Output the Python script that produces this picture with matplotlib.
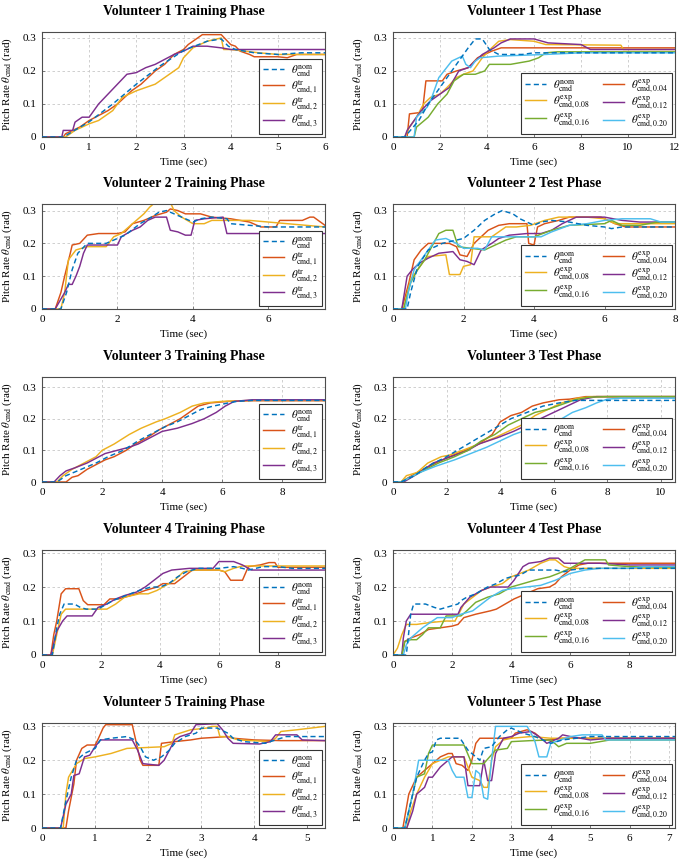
import matplotlib
matplotlib.use("Agg")
import matplotlib.pyplot as plt
import numpy as np

plt.rcParams['font.family'] = ['Liberation Serif', 'DejaVu Serif']
plt.rcParams['mathtext.fontset'] = 'stix'

# Colours (MATLAB-like palette)
C_NOM = '#0072BD'
C1 = '#D95319'
C2 = '#EDB120'
C3 = '#7E2F8E'
C4 = '#77AC30'
C5 = '#4DBEEE'

# ---------------- Volunteer 1 ----------------
V1_TR_NOM = [(0,0),(0.45,0),(1.0,0.046),(1.5,0.1),(2.0,0.16),(2.5,0.215),(3.0,0.262),(3.5,0.29),(3.8,0.297),(3.95,0.275),(4.1,0.265),(4.5,0.255),(5.0,0.25),(5.5,0.255),(6.0,0.255)]
V1_TR_1 = [(0,0),(0.45,0),(0.5,0.01),(0.8,0.03),(1.0,0.05),(1.4,0.08),(1.6,0.1),(1.9,0.14),(2.1,0.16),(2.4,0.2),(2.6,0.22),(2.8,0.25),(3.0,0.265),(3.1,0.28),(3.3,0.3),(3.4,0.31),(3.8,0.31),(3.9,0.295),(4.0,0.28),(4.1,0.275),(4.2,0.26),(4.4,0.25),(4.5,0.243),(5.0,0.243),(5.2,0.24),(5.4,0.25),(6.0,0.25)]
V1_TR_2 = [(0,0),(0.5,0),(0.7,0.02),(1.0,0.04),(1.2,0.05),(1.5,0.08),(1.7,0.12),(2.0,0.14),(2.4,0.16),(2.7,0.19),(2.9,0.21),(3.0,0.24),(3.2,0.27),(3.5,0.29),(3.8,0.3),(3.85,0.265),(4.0,0.265),(4.3,0.26),(4.6,0.255),(5.0,0.25),(6.0,0.25)]
V1_TR_3 = [(0,0),(0.42,0),(0.45,0.02),(0.65,0.02),(0.7,0.045),(0.85,0.06),(1.0,0.06),(1.1,0.08),(1.2,0.1),(1.4,0.13),(1.6,0.16),(1.8,0.19),(2.0,0.195),(2.2,0.21),(2.4,0.22),(2.6,0.235),(2.8,0.25),(3.0,0.26),(3.2,0.275),(3.5,0.275),(3.8,0.27),(4.0,0.265),(6.0,0.265)]

V1_TE_NOM = [(0,0),(0.5,0),(1.1,0.05),(1.5,0.1),(2.0,0.15),(2.5,0.2),(2.9,0.24),(3.2,0.27),(3.5,0.297),(3.8,0.297),(4.1,0.265),(4.5,0.25),(5.5,0.25),(6.0,0.255),(12.0,0.255)]
V1_TE_04 = [(0,0),(0.6,0),(0.7,0.07),(1.25,0.075),(1.4,0.17),(2.1,0.17),(2.3,0.19),(2.7,0.2),(3.2,0.21),(3.6,0.24),(4.2,0.26),(4.6,0.27),(12.0,0.27)]
V1_TE_08 = [(0,0),(0.5,0),(0.7,0.03),(1.0,0.06),(1.3,0.1),(1.6,0.12),(2.0,0.13),(2.3,0.15),(2.7,0.18),(3.0,0.19),(3.4,0.2),(3.8,0.24),(4.2,0.27),(4.5,0.29),(5.0,0.295),(6.0,0.29),(6.5,0.28),(9.7,0.278),(9.8,0.265),(12.0,0.265)]
V1_TE_12 = [(0,0),(0.5,0),(0.6,0.02),(0.9,0.05),(1.2,0.08),(1.6,0.11),(2.0,0.13),(2.4,0.15),(2.8,0.2),(3.2,0.21),(3.5,0.23),(3.8,0.25),(4.3,0.27),(4.6,0.285),(5.0,0.297),(6.0,0.297),(6.6,0.285),(8.0,0.28),(8.4,0.265),(12.0,0.265)]
V1_TE_16 = [(0,0),(0.9,0),(1.0,0.03),(1.5,0.06),(1.9,0.1),(2.3,0.13),(2.6,0.17),(3.0,0.19),(3.5,0.19),(3.9,0.2),(4.1,0.22),(5.0,0.22),(5.8,0.23),(6.2,0.24),(6.5,0.255),(7.0,0.258),(12.0,0.258)]
V1_TE_20 = [(0,0),(0.9,0),(1.0,0.06),(1.45,0.09),(1.6,0.11),(1.95,0.18),(2.5,0.23),(2.95,0.245),(3.1,0.22),(3.3,0.21),(3.5,0.23),(3.7,0.24),(4.5,0.245),(6.5,0.25),(8.0,0.255),(12.0,0.255)]

# ---------------- Volunteer 2 ----------------
V2_TR_NOM = [(0,0),(0.5,0),(0.65,0.05),(0.8,0.12),(0.95,0.17),(1.2,0.2),(1.7,0.2),(2.0,0.215),(2.2,0.225),(2.6,0.26),(2.9,0.28),(3.1,0.295),(3.3,0.3),(3.5,0.29),(3.7,0.28),(4.0,0.265),(4.2,0.275),(4.5,0.28),(4.9,0.275),(5.0,0.26),(5.5,0.255),(6.0,0.25),(7.5,0.25)]
V2_TR_1 = [(0,0),(0.35,0),(0.5,0.05),(0.6,0.1),(0.75,0.17),(0.8,0.195),(1.0,0.2),(1.2,0.225),(1.5,0.23),(2.0,0.23),(2.2,0.235),(2.4,0.26),(2.7,0.27),(3.0,0.285),(3.3,0.295),(3.4,0.305),(3.6,0.3),(3.8,0.29),(4.2,0.29),(4.5,0.28),(5.0,0.275),(5.5,0.265),(5.8,0.25),(6.2,0.25),(6.3,0.27),(6.9,0.27),(7.1,0.28),(7.2,0.28),(7.5,0.255)]
V2_TR_2 = [(0,0),(0.5,0),(0.6,0.05),(0.7,0.15),(0.9,0.18),(1.2,0.19),(1.7,0.19),(1.9,0.22),(2.1,0.23),(2.3,0.25),(2.5,0.27),(2.7,0.29),(2.85,0.31),(3.0,0.325),(3.4,0.325),(3.5,0.3),(3.7,0.28),(4.0,0.26),(4.3,0.26),(4.5,0.27),(5.5,0.27),(6.0,0.265),(6.5,0.26),(7.0,0.255),(7.5,0.25)]
V2_TR_3 = [(0,0),(0.35,0),(0.5,0.03),(0.6,0.05),(0.7,0.075),(0.8,0.075),(0.9,0.1),(1.0,0.13),(1.1,0.17),(1.2,0.195),(2.0,0.195),(2.1,0.22),(2.4,0.24),(2.6,0.25),(2.8,0.27),(3.0,0.28),(3.3,0.28),(3.4,0.24),(3.6,0.235),(3.8,0.225),(3.95,0.225),(4.05,0.27),(4.3,0.275),(4.8,0.28),(4.9,0.23),(7.5,0.23)]

V2_TE_NOM = [(0,0),(0.4,0),(0.5,0.05),(0.7,0.13),(1.0,0.18),(1.4,0.2),(1.8,0.21),(2.0,0.215),(2.3,0.24),(2.6,0.27),(2.9,0.29),(3.1,0.3),(3.4,0.29),(3.6,0.275),(3.8,0.265),(4.0,0.255),(4.2,0.265),(4.5,0.27),(5.0,0.265),(5.5,0.255),(6.0,0.25),(6.2,0.245),(6.5,0.25),(8.0,0.25)]
V2_TE_04 = [(0,0),(0.25,0),(0.45,0.08),(0.6,0.15),(0.8,0.18),(1.0,0.2),(1.6,0.2),(1.8,0.19),(1.9,0.165),(2.1,0.16),(2.3,0.2),(2.5,0.22),(2.7,0.24),(3.0,0.255),(3.3,0.26),(3.8,0.26),(3.85,0.2),(4.0,0.195),(4.1,0.25),(4.3,0.26),(4.7,0.27),(5.0,0.28),(5.9,0.28),(6.3,0.26),(6.6,0.25),(8.0,0.25)]
V2_TE_08 = [(0,0),(0.3,0),(0.5,0.09),(0.7,0.12),(0.9,0.15),(1.0,0.16),(1.5,0.165),(1.6,0.105),(1.9,0.105),(2.0,0.13),(2.2,0.135),(2.3,0.22),(2.8,0.22),(3.0,0.235),(3.2,0.25),(3.5,0.25),(3.9,0.255),(4.3,0.27),(4.7,0.28),(5.5,0.28),(6.0,0.275),(6.3,0.26),(8.0,0.26)]
V2_TE_12 = [(0,0),(0.25,0),(0.4,0.1),(0.55,0.12),(0.75,0.14),(1.0,0.155),(1.3,0.17),(1.7,0.175),(1.9,0.15),(2.1,0.145),(2.3,0.135),(2.5,0.18),(2.8,0.2),(3.0,0.215),(3.3,0.225),(3.8,0.23),(4.2,0.23),(4.5,0.24),(4.8,0.26),(5.2,0.28),(6.0,0.28),(6.5,0.27),(7.0,0.265),(8.0,0.265)]
V2_TE_16 = [(0,0),(0.3,0),(0.5,0.08),(0.7,0.12),(0.9,0.15),(1.1,0.19),(1.3,0.23),(1.5,0.24),(1.7,0.24),(1.85,0.19),(2.2,0.185),(2.6,0.18),(2.8,0.19),(3.2,0.21),(3.5,0.22),(4.0,0.22),(4.5,0.24),(5.0,0.255),(6.0,0.26),(6.2,0.27),(6.5,0.255),(7.0,0.255),(7.5,0.265),(8.0,0.265)]
V2_TE_20 = [(0,0),(0.35,0),(0.45,0.06),(0.6,0.12),(0.8,0.15),(1.0,0.18),(1.2,0.21),(1.5,0.215),(1.8,0.2),(2.0,0.185),(2.4,0.185),(2.6,0.18),(2.8,0.22),(4.2,0.22),(4.5,0.235),(5.0,0.255),(5.5,0.26),(6.0,0.27),(6.5,0.275),(7.3,0.275),(7.6,0.265),(8.0,0.265)]

# ---------------- Volunteer 3 ----------------
V3_TR_NOM = [(0,0),(0.5,0),(0.8,0.02),(1.3,0.04),(1.8,0.06),(2.2,0.08),(2.7,0.1),(3.2,0.13),(3.7,0.155),(4.1,0.175),(4.5,0.19),(4.9,0.21),(5.3,0.23),(5.7,0.24),(6.2,0.25),(6.5,0.255),(7.0,0.258),(9.42,0.258)]
V3_TR_1 = [(0,0),(0.8,0),(1.0,0.015),(1.2,0.02),(1.5,0.04),(1.8,0.055),(2.1,0.07),(2.4,0.08),(2.8,0.1),(3.1,0.12),(3.5,0.14),(3.9,0.165),(4.2,0.18),(4.6,0.2),(4.9,0.22),(5.2,0.24),(5.6,0.25),(6.2,0.255),(7.0,0.257),(9.42,0.257)]
V3_TR_2 = [(0,0),(0.5,0),(0.7,0.02),(1.0,0.04),(1.4,0.06),(1.8,0.08),(2.0,0.1),(2.4,0.12),(2.9,0.15),(3.3,0.17),(3.8,0.19),(4.1,0.2),(4.6,0.22),(5.0,0.24),(5.4,0.25),(6.0,0.255),(7.0,0.258),(9.42,0.258)]
V3_TR_3 = [(0,0),(0.4,0),(0.6,0.02),(0.8,0.035),(1.1,0.045),(1.5,0.06),(1.8,0.075),(2.1,0.09),(2.5,0.1),(2.9,0.11),(3.2,0.12),(3.6,0.14),(4.0,0.16),(4.5,0.17),(5.0,0.185),(5.4,0.2),(5.8,0.22),(6.1,0.24),(6.4,0.255),(7.0,0.26),(9.42,0.26)]

V3_TE_NOM = [(0,0),(0.3,0),(0.8,0.02),(1.3,0.05),(2.0,0.08),(2.6,0.11),(3.2,0.14),(3.8,0.17),(4.4,0.2),(5.0,0.22),(5.6,0.24),(6.2,0.25),(6.8,0.258),(10.53,0.258)]
V3_TE_04 = [(0,0),(0.3,0),(0.9,0.03),(1.6,0.06),(2.1,0.08),(2.7,0.1),(3.2,0.12),(3.7,0.15),(4.0,0.19),(4.4,0.21),(4.8,0.22),(5.2,0.24),(5.6,0.25),(6.2,0.26),(6.6,0.262),(7.2,0.27),(10.53,0.27)]
V3_TE_08 = [(0,0),(0.3,0),(0.5,0.02),(0.9,0.03),(1.3,0.06),(1.8,0.08),(2.1,0.085),(2.6,0.1),(3.2,0.12),(3.8,0.14),(4.3,0.16),(4.8,0.18),(5.3,0.21),(5.8,0.23),(6.3,0.25),(6.9,0.265),(7.5,0.27),(10.53,0.27)]
V3_TE_12 = [(0,0),(0.4,0),(1.0,0.03),(1.5,0.06),(2.0,0.075),(2.8,0.1),(3.2,0.12),(3.9,0.14),(4.5,0.16),(5.0,0.18),(5.5,0.2),(6.0,0.22),(6.5,0.24),(7.0,0.26),(7.6,0.27),(10.53,0.27)]
V3_TE_16 = [(0,0),(0.3,0),(1.0,0.03),(1.7,0.06),(2.3,0.08),(2.8,0.1),(3.3,0.13),(3.8,0.15),(4.3,0.18),(4.8,0.2),(5.3,0.22),(5.8,0.23),(6.3,0.245),(6.8,0.26),(7.3,0.268),(8.0,0.27),(10.53,0.27)]
V3_TE_20 = [(0,0),(0.3,0),(1.0,0.03),(1.6,0.05),(2.3,0.07),(2.9,0.09),(3.5,0.11),(4.0,0.13),(4.5,0.15),(5.0,0.165),(5.5,0.175),(6.0,0.19),(6.3,0.2),(6.7,0.22),(7.2,0.235),(7.6,0.25),(8.0,0.262),(8.5,0.265),(10.53,0.265)]

# ---------------- Volunteer 4 ----------------
V4_TR_NOM = [(0,0),(0.35,0),(0.5,0.08),(0.6,0.12),(0.75,0.15),(1.1,0.15),(1.3,0.14),(1.5,0.135),(1.9,0.135),(2.1,0.145),(2.4,0.16),(2.7,0.17),(3.0,0.18),(3.3,0.19),(3.7,0.2),(4.0,0.2),(4.3,0.21),(4.6,0.23),(4.9,0.245),(5.3,0.255),(6.0,0.255),(6.5,0.26),(6.8,0.255),(7.0,0.25),(7.5,0.26),(8.0,0.26),(8.5,0.255),(9.6,0.255)]
V4_TR_1 = [(0,0),(0.3,0),(0.4,0.06),(0.5,0.1),(0.65,0.18),(0.8,0.195),(1.25,0.195),(1.4,0.16),(1.55,0.148),(2.1,0.148),(2.3,0.165),(2.6,0.165),(2.8,0.17),(3.2,0.18),(3.5,0.19),(3.9,0.2),(4.1,0.21),(4.5,0.21),(4.8,0.23),(5.1,0.25),(6.0,0.25),(6.2,0.245),(6.4,0.22),(6.8,0.22),(7.0,0.26),(7.4,0.265),(7.7,0.272),(7.9,0.272),(8.0,0.258),(9.6,0.258)]
V4_TR_2 = [(0,0),(0.35,0),(0.5,0.06),(0.65,0.12),(0.8,0.135),(2.2,0.135),(2.5,0.15),(2.8,0.17),(3.3,0.18),(3.6,0.18),(3.9,0.19),(4.1,0.2),(4.5,0.22),(4.8,0.245),(5.2,0.25),(6.0,0.25),(6.2,0.245),(6.5,0.255),(6.8,0.262),(9.6,0.262)]
V4_TR_3 = [(0,0),(0.3,0),(0.5,0.07),(0.7,0.1),(0.85,0.115),(1.7,0.115),(1.9,0.14),(2.2,0.15),(2.5,0.165),(2.8,0.175),(3.2,0.185),(3.5,0.2),(3.8,0.22),(4.1,0.24),(4.4,0.25),(5.0,0.255),(5.8,0.255),(6.0,0.275),(6.5,0.275),(6.8,0.265),(7.1,0.25),(9.6,0.25)]

V4_TE_NOM = [(0,0),(0.45,0),(0.6,0.12),(0.7,0.15),(1.1,0.15),(1.4,0.14),(1.6,0.135),(1.8,0.14),(2.0,0.145),(2.2,0.15),(2.3,0.16),(2.5,0.17),(2.8,0.18),(3.2,0.2),(3.5,0.21),(3.8,0.225),(4.0,0.23),(4.3,0.235),(4.6,0.25),(5.5,0.25),(5.8,0.245),(6.0,0.25),(6.5,0.255),(9.55,0.255)]
V4_TE_04 = [(0,0),(0.3,0),(0.4,0.04),(0.6,0.05),(0.9,0.06),(1.2,0.075),(1.6,0.08),(2.0,0.085),(2.2,0.09),(2.4,0.11),(2.8,0.12),(3.3,0.13),(3.5,0.135),(3.8,0.15),(4.1,0.165),(4.5,0.18),(4.9,0.195),(5.3,0.2),(5.5,0.21),(5.7,0.23),(6.0,0.25),(6.3,0.265),(6.6,0.27),(9.55,0.27)]
V4_TE_08 = [(0,0),(0.15,0.02),(0.3,0.06),(0.45,0.09),(0.8,0.09),(1.2,0.095),(1.8,0.1),(2.1,0.1),(2.4,0.15),(2.7,0.17),(3.0,0.19),(3.3,0.2),(3.7,0.21),(4.0,0.23),(4.3,0.24),(4.6,0.25),(5.0,0.27),(5.3,0.28),(5.5,0.28),(5.8,0.26),(6.0,0.255),(9.55,0.255)]
V4_TE_12 = [(0,0),(0.3,0),(0.35,0.05),(0.45,0.1),(0.6,0.12),(2.2,0.12),(2.3,0.14),(2.6,0.17),(2.9,0.185),(3.0,0.19),(3.3,0.2),(3.9,0.2),(4.1,0.22),(4.4,0.26),(4.6,0.27),(5.0,0.275),(5.3,0.285),(5.6,0.285),(5.8,0.27),(7.0,0.27),(8.0,0.265),(9.55,0.265)]
V4_TE_16 = [(0,0),(0.3,0),(0.4,0.04),(0.6,0.045),(0.8,0.045),(1.0,0.06),(1.2,0.08),(1.6,0.08),(1.8,0.115),(2.3,0.115),(2.5,0.13),(2.8,0.155),(3.2,0.17),(3.6,0.18),(4.0,0.2),(4.4,0.21),(4.8,0.22),(5.3,0.23),(5.6,0.24),(6.0,0.255),(6.3,0.27),(6.5,0.28),(7.2,0.28),(7.3,0.265),(8.0,0.26),(9.55,0.258)]
V4_TE_20 = [(0,0),(0.35,0),(0.45,0.03),(0.6,0.05),(1.0,0.08),(1.5,0.11),(2.0,0.11),(2.3,0.12),(2.7,0.13),(3.0,0.15),(3.3,0.17),(3.7,0.19),(4.0,0.195),(4.5,0.2),(5.0,0.205),(5.5,0.22),(6.0,0.24),(6.5,0.25),(7.0,0.255),(8.0,0.255),(8.5,0.26),(9.55,0.26)]

# ---------------- Volunteer 5 ----------------
V5_TR_NOM = [(0,0),(0.35,0),(0.45,0.08),(0.55,0.15),(0.65,0.2),(0.8,0.22),(1.0,0.235),(1.1,0.26),(1.3,0.265),(1.6,0.27),(1.75,0.26),(1.85,0.24),(1.95,0.21),(2.1,0.2),(2.25,0.21),(2.4,0.23),(2.5,0.25),(2.7,0.27),(2.9,0.28),(3.0,0.295),(3.3,0.295),(3.5,0.28),(3.6,0.265),(3.8,0.255),(4.2,0.25),(4.4,0.26),(4.6,0.27),(5.33,0.27)]
V5_TR_1 = [(0,0),(0.45,0),(0.5,0.05),(0.6,0.13),(0.65,0.2),(0.75,0.235),(0.85,0.245),(1.0,0.245),(1.05,0.26),(1.15,0.295),(1.2,0.305),(1.7,0.305),(1.75,0.27),(1.85,0.2),(1.9,0.185),(2.2,0.185),(2.25,0.25),(2.5,0.255),(2.8,0.26),(3.0,0.265),(3.5,0.27),(3.6,0.265),(4.0,0.26),(4.5,0.258),(5.33,0.258)]
V5_TR_2 = [(0,0),(0.4,0),(0.45,0.1),(0.5,0.15),(0.65,0.19),(0.8,0.205),(1.0,0.21),(1.3,0.22),(1.6,0.235),(2.3,0.24),(2.45,0.25),(2.5,0.275),(2.8,0.29),(3.1,0.295),(3.2,0.3),(3.3,0.3),(3.35,0.27),(3.5,0.27),(3.7,0.26),(4.3,0.255),(4.4,0.265),(4.5,0.285),(4.8,0.29),(5.33,0.3)]
V5_TR_3 = [(0,0),(0.35,0),(0.45,0.07),(0.55,0.1),(0.6,0.155),(0.7,0.16),(0.78,0.2),(0.8,0.21),(0.9,0.215),(1.0,0.24),(1.1,0.26),(1.7,0.26),(1.8,0.23),(1.9,0.19),(2.2,0.185),(2.3,0.2),(2.4,0.23),(2.5,0.26),(2.6,0.27),(2.8,0.28),(2.9,0.305),(3.3,0.308),(3.4,0.29),(3.5,0.265),(3.6,0.25),(4.1,0.248),(4.3,0.255),(4.4,0.275),(4.8,0.275),(4.9,0.26),(5.33,0.258)]

V5_TE_NOM = [(0,0),(0.3,0),(0.5,0.1),(0.6,0.15),(0.8,0.2),(0.9,0.22),(1.0,0.225),(1.1,0.26),(1.2,0.265),(1.7,0.265),(1.9,0.23),(2.1,0.21),(2.2,0.2),(2.3,0.235),(2.5,0.24),(2.7,0.27),(2.9,0.29),(3.0,0.295),(3.3,0.28),(3.6,0.27),(3.9,0.255),(4.0,0.25),(4.3,0.26),(5.0,0.27),(7.15,0.27)]
V5_TE_04 = [(0,0),(0.25,0),(0.4,0.1),(0.6,0.15),(0.8,0.17),(1.0,0.19),(1.2,0.21),(1.4,0.22),(1.5,0.22),(1.6,0.19),(1.75,0.185),(1.9,0.17),(2.0,0.2),(2.1,0.25),(2.2,0.265),(3.0,0.265),(3.1,0.28),(3.4,0.29),(3.6,0.28),(3.8,0.26),(4.0,0.26),(4.3,0.265),(7.15,0.265)]
V5_TE_08 = [(0,0),(0.35,0),(0.45,0.05),(0.6,0.1),(0.8,0.15),(1.0,0.19),(1.2,0.2),(1.4,0.21),(1.8,0.21),(2.0,0.15),(2.2,0.14),(2.3,0.12),(2.4,0.12),(2.5,0.2),(2.6,0.24),(2.8,0.26),(3.0,0.265),(3.5,0.27),(4.0,0.265),(7.15,0.265)]
V5_TE_12 = [(0,0),(0.35,0),(0.5,0.05),(0.6,0.1),(0.8,0.12),(0.9,0.15),(1.0,0.15),(1.2,0.18),(1.4,0.2),(1.5,0.21),(1.8,0.21),(1.9,0.125),(2.2,0.125),(2.3,0.2),(2.4,0.14),(2.5,0.14),(2.6,0.22),(2.8,0.265),(3.0,0.27),(3.2,0.28),(3.5,0.285),(3.7,0.27),(3.9,0.25),(4.2,0.265),(4.3,0.275),(4.5,0.27),(5.0,0.26),(5.5,0.265),(7.15,0.265)]
V5_TE_16 = [(0,0),(0.3,0),(0.5,0.1),(0.6,0.15),(0.8,0.16),(0.9,0.22),(1.0,0.245),(1.8,0.245),(2.0,0.19),(2.3,0.19),(2.6,0.23),(2.9,0.235),(3.0,0.255),(3.5,0.258),(4.0,0.26),(4.2,0.24),(4.4,0.25),(5.0,0.25),(5.5,0.26),(7.15,0.26)]
V5_TE_20 = [(0,0),(0.3,0),(0.5,0.1),(0.65,0.2),(1.4,0.2),(1.5,0.17),(1.6,0.15),(1.8,0.15),(1.9,0.09),(2.0,0.09),(2.1,0.17),(2.2,0.16),(2.3,0.09),(2.4,0.085),(2.5,0.2),(2.6,0.3),(3.4,0.3),(3.5,0.28),(3.6,0.255),(3.7,0.21),(3.9,0.21),(4.0,0.25),(4.5,0.27),(4.8,0.275),(5.3,0.275),(5.4,0.26),(7.15,0.26)]

TITLES = ["Volunteer 1 Training Phase", "Volunteer 1 Test Phase",
          "Volunteer 2 Training Phase", "Volunteer 2 Test Phase",
          "Volunteer 3 Training Phase", "Volunteer 3 Test Phase",
          "Volunteer 4 Training Phase", "Volunteer 4 Test Phase",
          "Volunteer 5 Training Phase", "Volunteer 5 Test Phase"]
XMAX = [6, 12, 7.5, 8, 9.42, 10.53, 9.6, 9.55, 5.33, 7.15]
XTICKS = [np.arange(0, 7, 1), np.arange(0, 13, 2), np.arange(0, 7, 2), np.arange(0, 9, 2),
          np.arange(0, 9, 2), np.arange(0, 11, 2), np.arange(0, 9, 2), np.arange(0, 9, 2),
          np.arange(0, 6, 1), np.arange(0, 8, 1)]
YMAX = [0.318, 0.318, 0.32, 0.32, 0.332, 0.332, 0.309, 0.309, 0.31, 0.31]

TRAIN_LABELS = [r'$\theta^{\mathrm{nom}}_{\mathrm{cmd}}$', r'$\theta^{\mathrm{tr}}_{\mathrm{cmd},1}$',
                r'$\theta^{\mathrm{tr}}_{\mathrm{cmd},2}$', r'$\theta^{\mathrm{tr}}_{\mathrm{cmd},3}$']
TEST_LABELS = [r'$\theta^{\mathrm{nom}}_{\mathrm{cmd}}$', r'$\theta^{\mathrm{exp}}_{\mathrm{cmd},0.04}$',
               r'$\theta^{\mathrm{exp}}_{\mathrm{cmd},0.08}$', r'$\theta^{\mathrm{exp}}_{\mathrm{cmd},0.12}$',
               r'$\theta^{\mathrm{exp}}_{\mathrm{cmd},0.16}$', r'$\theta^{\mathrm{exp}}_{\mathrm{cmd},0.20}$']
TRAIN_COLORS = [C_NOM, C1, C2, C3]
TEST_COLORS = [C_NOM, C1, C2, C3, C4, C5]

PANELS = [
    [V1_TR_NOM, V1_TR_1, V1_TR_2, V1_TR_3],
    [V1_TE_NOM, V1_TE_04, V1_TE_08, V1_TE_12, V1_TE_16, V1_TE_20],
    [V2_TR_NOM, V2_TR_1, V2_TR_2, V2_TR_3],
    [V2_TE_NOM, V2_TE_04, V2_TE_08, V2_TE_12, V2_TE_16, V2_TE_20],
    [V3_TR_NOM, V3_TR_1, V3_TR_2, V3_TR_3],
    [V3_TE_NOM, V3_TE_04, V3_TE_08, V3_TE_12, V3_TE_16, V3_TE_20],
    [V4_TR_NOM, V4_TR_1, V4_TR_2, V4_TR_3],
    [V4_TE_NOM, V4_TE_04, V4_TE_08, V4_TE_12, V4_TE_16, V4_TE_20],
    [V5_TR_NOM, V5_TR_1, V5_TR_2, V5_TR_3],
    [V5_TE_NOM, V5_TE_04, V5_TE_08, V5_TE_12, V5_TE_16, V5_TE_20],
]

W, H = 684, 860
fig = plt.figure(figsize=(W / 100, H / 100), dpi=100)

ROW_TOPS = [32, 204, 377, 550, 723]
COL_LEFT = [42, 393]
AX_W = [283, 282]
AX_H = 105

for i, series in enumerate(PANELS):
    r, c = divmod(i, 2)
    left = COL_LEFT[c] / W
    bottom = 1 - (ROW_TOPS[r] + AX_H) / H
    ax = fig.add_axes([left, bottom, AX_W[c] / W, AX_H / H])
    is_test = (c == 1)
    labels = TEST_LABELS if is_test else TRAIN_LABELS
    colors = TEST_COLORS if is_test else TRAIN_COLORS
    order = list(range(1, len(series))) + [0]
    hdict = {}
    for k in order:
        pts = np.array(series[k])
        ls = (0, (3.5, 2.2)) if k == 0 else '-'
        h, = ax.plot(pts[:, 0], pts[:, 1], color=colors[k], lw=1.05, ls=ls,
                     label=labels[k], zorder=3 if k == 0 else 2)
        hdict[k] = h
    ax.set_xlim(0, XMAX[i])
    ax.set_ylim(0, YMAX[i])
    ax.set_xticks(XTICKS[i])
    ax.set_xticklabels([str(int(v)) for v in XTICKS[i]])
    ax.set_yticks([0, 0.1, 0.2, 0.3])
    ax.set_yticklabels(['0', '0.1', '0.2', '0.3'])
    ax.tick_params(labelsize=8, direction='in', length=2, width=0.5, color='#555555', pad=4)
    ax.grid(True, color='#c8c8c8', lw=0.6, ls=(0, (3, 3)))
    ax.set_axisbelow(True)
    for sp in ax.spines.values():
        sp.set_color('#4d4d4d')
        sp.set_linewidth(0.8)
    ax.set_title(TITLES[i], fontsize=10, fontweight='bold', pad=12)
    ax.set_xlabel('Time (sec)', fontsize=8, labelpad=4)
    ax.set_ylabel(r'Pitch Rate $\theta_{\mathrm{cmd}}$ (rad)', fontsize=8, labelpad=6)
    if is_test:
        idx = [0, 2, 4, 1, 3, 5]
        ncol = 2
    else:
        idx = [0, 1, 2, 3]
        ncol = 1
    leg = ax.legend([hdict[k] for k in idx], [labels[k] for k in idx], loc='lower right',
                    ncol=ncol, fontsize=8, frameon=True, fancybox=False, framealpha=1,
                    edgecolor='#333333', borderaxespad=0.25, handlelength=1.9,
                    labelspacing=0.0, columnspacing=1.2, borderpad=0.35, handletextpad=0.6)
    leg.get_frame().set_linewidth(0.8)

fig.savefig('out.png', dpi=100)
